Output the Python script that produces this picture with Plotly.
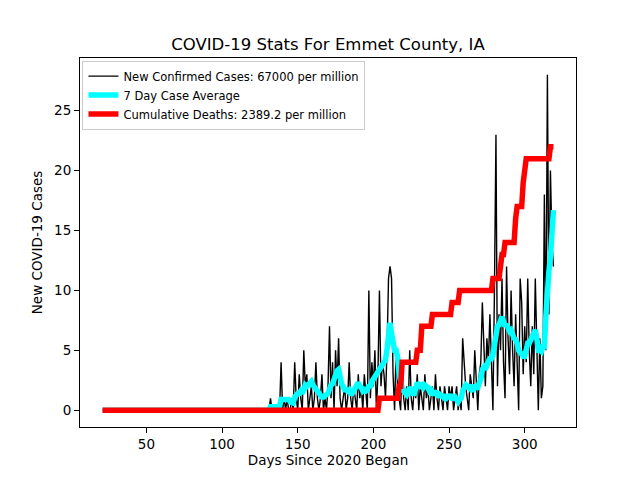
import plotly.graph_objects as go

# ---- data ----------------------------------------------------------------
FIRST_DAY = 21

# new confirmed cases per day, days 21..319
new_cases = [0] * 111 + [
    # 132-141
    1, 0, 0, 0, 0, 0, 0, 4, 0, 1,
    # 142-151
    0, 1, 0, 0, 1, 0, 4, 1, 0, 3,
    # 152-161
    1, 0, 5, 2, 3, 0, 1, 2, 0, 1,
    # 162-171
    4, 1, 0, 1, 3, 0, 1, 0, 2, 7,
    # 172-181
    1, 4, 0, 5, 2, 6, 1, 0, 1, 2,
    # 182-191
    0, 1, 4, 1, 0, 2, 1, 0, 3, 1,
    # 192-201
    2, 0, 3, 1, 0, 10, 1, 4, 2, 5,
    # 202-211
    0, 3, 10, 2, 4, 3, 1, 5, 11, 12,
    # 212-221
    11, 3, 0, 5, 2, 1, 0, 4, 1, 0,
    # 222-231
    2, 0, 5, 1, 0, 2, 1, 3, 0, 2,
    # 232-241
    1, 0, 3, 1, 2, 0, 1, 2, 0, 3,
    # 242-251
    1, 0, 2, 1, 0, 2, 1, 0, 2, 1,
    # 252-261
    2, 0, 1, 2, 0, 1, 0, 6, 4, 2,
    # 262-271
    1, 0, 3, 2, 1, 5, 2, 0, 3, 4,
    # 272-281
    9, 5, 2, 6, 4, 8, 3, 0, 10, 23,
    # 282-291
    2, 8, 5, 11, 4, 1, 12, 6, 3, 10,
    # 292-301
    5, 2, 8, 4, 0, 11, 9, 3, 7, 4,
    # 302-311
    11, 5, 2, 7, 3, 11, 4, 0, 6, 1,
    # 312-319
    2, 18, 5, 28, 8, 20, 14, 12,
]

# 7 day case average, days 21..319
avg7 = [0] * 109 + [
    # 130-139
    0, 0, 0.3, 0.3, 0.3, 0.3, 0.3, 0.3, 0.3, 0.9,
    # 140-149
    0.9, 0.9, 0.9, 0.9, 0.9, 0.7, 0.7, 0.6, 1.1, 1.3,
    # 150-159
    1.4, 1.4, 1.6, 1.4, 2.0, 2.1, 2.0, 2.1, 2.3, 2.4,
    # 160-169
    2.1, 1.9, 1.7, 1.5, 1.4, 1.3, 1.1, 1.1, 1.3, 1.3,
    # 170-179
    1.4, 2.0, 2.1, 2.2, 2.6, 3.0, 3.3, 3.4, 2.7, 2.2,
    # 180-189
    2.0, 1.7, 1.7, 1.6, 1.7, 1.4, 1.4, 1.6, 1.7, 2.0,
    # 190-199
    2.3, 2.0, 1.9, 1.6, 1.7, 1.6, 1.7, 2.1, 1.9, 2.4,
    # 200-209
    2.6, 2.9, 3.0, 3.3, 3.4, 3.6, 4.0, 4.0, 4.2, 5.1,
    # 210-219
    6.3, 7.3, 6.4, 5.3, 5.0, 5.0, 4.4, 3.0, 2.3, 1.9,
    # 220-229
    1.6, 1.4, 1.3, 1.6, 1.9, 1.7, 1.4, 1.4, 1.9, 2.3,
    # 230-239
    2.1, 2.0, 2.1, 1.9, 2.1, 2.0, 1.9, 1.6, 1.7, 1.4,
    # 240-249
    1.4, 1.6, 1.3, 1.1, 1.3, 1.1, 1.1, 1.3, 1.0, 1.1,
    # 250-259
    1.1, 1.3, 1.0, 1.0, 1.1, 0.9, 0.7, 0.9, 1.0, 1.6,
    # 260-269
    1.9, 2.1, 2.0, 1.9, 2.1, 1.7, 1.7, 2.1, 1.9, 1.9,
    # 270-279
    2.3, 2.6, 3.4, 3.6, 3.4, 3.9, 4.1, 4.3, 4.3, 4.6,
    # 280-289
    5.5, 6.4, 7.0, 7.1, 7.6, 7.8, 7.4, 7.0, 7.2, 6.9,
    # 290-299
    6.6, 6.7, 6.3, 6.0, 5.9, 5.6, 5.0, 4.8, 4.6, 4.5,
    # 300-309
    4.5, 5.0, 5.6, 5.6, 5.9, 6.0, 6.4, 6.7, 6.0, 5.0,
    # 310-319
    5.0, 4.9, 5.3, 5.3, 7.9, 10.3, 11.6, 12.8, 14.9, 16.7,
]

# cumulative deaths, days 21..319
deaths = (
    [0] * 183      # 21-203
    + [1] * 13     # 204-216
    + [2] * 2      # 217-218
    + [4] * 10     # 219-228
    + [5] * 3      # 229-231
    + [7] * 7      # 232-238
    + [8] * 13     # 239-251
    + [9] * 5      # 252-256
    + [10] * 22    # 257-278
    + [11] * 5     # 279-283
    + [12]         # 284
    + [13] * 2     # 285-286
    + [14] * 7     # 287-293
    + [16]         # 294
    + [17] * 4     # 295-298
    + [19, 20]     # 299-300
    + [21] * 16    # 301-316
    + [22] * 3     # 317-319
)

days = list(range(FIRST_DAY, FIRST_DAY + len(new_cases)))

NAMES = [
    "New Confirmed Cases: 67000 per million",
    "7 Day Case Average",
    "Cumulative Deaths: 2389.2 per million",
]

FONT = "DejaVu Sans, Liberation Sans, sans-serif"
PAGE_OFFSET = 8   # the page body adds an 8px margin top/left

fig = go.Figure()
fig.add_trace(go.Scatter(x=days, y=new_cases, mode="lines", name=NAMES[0],
                         line=dict(color="black", width=1.4)))
fig.add_trace(go.Scatter(x=days[:len(avg7)], y=avg7, mode="lines", name=NAMES[1],
                         line=dict(color="#00FFFF", width=5.5)))
fig.add_trace(go.Scatter(x=days[:len(deaths)], y=deaths, mode="lines", name=NAMES[2],
                         line=dict(color="#FF0000", width=5.5)))

axis = dict(
    showline=True, linecolor="black", linewidth=1, mirror=True,
    ticks="outside", ticklen=5, tickwidth=1, tickcolor="black",
    showgrid=False, zeroline=False,
    tickfont=dict(size=13.5, color="black"),
)

fig.update_layout(
    width=640, height=480, autosize=False,
    paper_bgcolor="white", plot_bgcolor="white",
    font=dict(family=FONT, color="black"),
    margin=dict(l=80 - PAGE_OFFSET, r=64 + PAGE_OFFSET,
                t=58 - PAGE_OFFSET, b=53 + PAGE_OFFSET),
    title=dict(text="COVID-19 Stats For Emmet County, IA",
               x=(328 - PAGE_OFFSET) / 640, xanchor="center",
               y=1 - (44 - PAGE_OFFSET) / 480, yanchor="middle",
               font=dict(size=16.5)),
    xaxis=dict(axis, range=[6.1, 333.9], tickvals=[50, 100, 150, 200, 250, 300],
               title=dict(text="Days Since 2020 Began", font=dict(size=13.5), standoff=4)),
    yaxis=dict(axis, range=[-1.4, 29.4], tickvals=[0, 5, 10, 15, 20, 25],
               title=dict(text="New COVID-19 Cases", font=dict(size=13.5), standoff=8)),
    showlegend=True,
    legend=dict(x=0.005, y=0.993, xanchor="left", yanchor="top",
                bgcolor="rgba(255,255,255,0.8)", bordercolor="#cccccc", borderwidth=1,
                font=dict(size=11.5), tracegroupgap=0, itemwidth=30),
)

fig.write_html("out.html")
